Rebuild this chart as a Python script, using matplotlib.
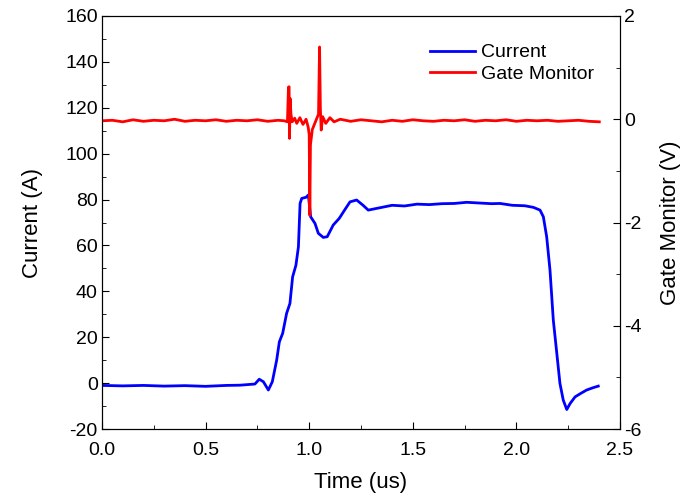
import matplotlib.pyplot as plt
from matplotlib.ticker import MultipleLocator

plt.rcParams['font.family'] = ['Liberation Sans', 'DejaVu Sans']
plt.rcParams['axes.unicode_minus'] = False

# Current trace (A) vs time (us)
t_cur = [0.0, 0.1, 0.2, 0.3, 0.4, 0.5, 0.6, 0.666, 0.738, 0.759, 0.779, 0.803,
         0.822, 0.843, 0.856, 0.872, 0.891, 0.907, 0.920, 0.936, 0.948, 0.956,
         0.964, 0.985, 0.996, 1.007, 1.028, 1.044, 1.068, 1.087, 1.116, 1.145,
         1.175, 1.197, 1.229, 1.26, 1.285, 1.334, 1.40, 1.46, 1.52, 1.58, 1.64,
         1.70, 1.76, 1.82, 1.88, 1.921, 1.98, 2.04, 2.082, 2.114, 2.13, 2.146,
         2.162, 2.178, 2.195, 2.21, 2.226, 2.243, 2.259, 2.283, 2.31, 2.339,
         2.37, 2.395]
current = [-1.0, -1.2, -1.0, -1.3, -1.1, -1.4, -1.0, -0.9, -0.4, 1.7, 0.6, -3.0,
           0.6, 10, 18, 21.7, 30.4, 34.7, 46.3, 51.4, 59.4, 78.3,
           80.5, 81, 82, 72.5, 69.6, 65.3, 63.5, 63.8, 68.9, 71.8,
           76, 79, 79.8, 77.5, 75.4, 76.3, 77.5, 77.2, 78, 77.8, 78.2,
           78.3, 78.8, 78.5, 78.2, 78.3, 77.5, 77.3, 76.6, 75.4, 72.5, 63.8,
           49.3, 27.5, 12.9, -0.1, -7.4, -11.5, -8.9, -6.0, -4.5, -3.0,
           -2.0, -1.3]

# Gate monitor trace (V) vs time (us)
t_gate = [0.0, 0.05, 0.1, 0.15, 0.2, 0.25, 0.3, 0.35, 0.4, 0.45, 0.5, 0.55,
          0.6, 0.65, 0.7, 0.75, 0.8, 0.85, 0.88, 0.895, 0.900, 0.903, 0.905,
          0.908, 0.912, 0.918, 0.93, 0.94, 0.955, 0.97, 0.985, 0.995, 1.000,
          1.003, 1.006, 1.015, 1.03, 1.045, 1.050, 1.054, 1.058, 1.065, 1.08,
          1.1, 1.12, 1.15, 1.2, 1.25, 1.3, 1.35, 1.4, 1.45, 1.5, 1.55, 1.6,
          1.65, 1.7, 1.75, 1.8, 1.85, 1.9, 1.95, 2.0, 2.05, 2.1, 2.15, 2.2,
          2.25, 2.3, 2.35, 2.4]
gate = [-0.03, -0.02, -0.05, -0.01, -0.04, -0.02, -0.03, 0.0, -0.04, -0.02,
        -0.03, -0.01, -0.04, -0.02, -0.03, -0.01, -0.04, -0.02, -0.03, -0.05,
        0.62, 0.63, -0.37, 0.40, 0.1, -0.05, 0.02, -0.08, 0.03, -0.1, 0.0,
        -0.15, -0.3, -1.86, -0.5, -0.2, -0.05, 0.1, 1.40, 0.2, -0.21, 0.05,
        -0.08, 0.03, -0.05, 0.0, -0.04, -0.01, -0.03, -0.05, -0.02, -0.04,
        -0.01, -0.03, -0.04, -0.02, -0.03, -0.01, -0.04, -0.02, -0.03, -0.01,
        -0.04, -0.02, -0.03, -0.02, -0.04, -0.03, -0.02, -0.04, -0.05]

fig = plt.figure(figsize=(6.83, 4.95), dpi=100)
ax = fig.add_axes([0.1493, 0.1333, 0.7585, 0.8344])
ax2 = ax.twinx()

l1, = ax.plot(t_cur, current, color='#0000ff', lw=2.0, label='Current')
l2, = ax2.plot(t_gate, gate, color='#ff0000', lw=2.0, label='Gate Monitor')

ax.set_xlim(0, 2.5)
ax.set_ylim(-20, 160)
ax2.set_ylim(-6, 2)

ax.xaxis.set_major_locator(MultipleLocator(0.5))
ax.xaxis.set_minor_locator(MultipleLocator(0.25))
ax.yaxis.set_major_locator(MultipleLocator(20))
ax.yaxis.set_minor_locator(MultipleLocator(10))
ax2.yaxis.set_major_locator(MultipleLocator(2))
ax2.yaxis.set_minor_locator(MultipleLocator(1))
ax.xaxis.set_major_formatter('{x:.1f}')

ax.tick_params(which='both', direction='in', labelsize=14, top=False,
               right=False, pad=3)
ax.tick_params(axis='x', which='both', pad=9)
ax.tick_params(which='major', length=5)
ax.tick_params(which='minor', length=3)
ax2.tick_params(which='both', direction='in', labelsize=14, pad=3)
ax2.tick_params(which='major', length=5)
ax2.tick_params(which='minor', length=3)

ax.set_xlabel('Time (us)', fontsize=16, labelpad=10)
ax.set_ylabel('Current (A)', fontsize=16, labelpad=16)
ax2.set_ylabel('Gate Monitor (V)', fontsize=16, labelpad=13)

ax2.legend(handles=[l1, l2], loc='upper left', frameon=False, fontsize=14,
           bbox_to_anchor=(0.60, 0.975), handlelength=2.3, handletextpad=0.3,
           labelspacing=0.2)

fig.savefig('out.png', dpi=100)
